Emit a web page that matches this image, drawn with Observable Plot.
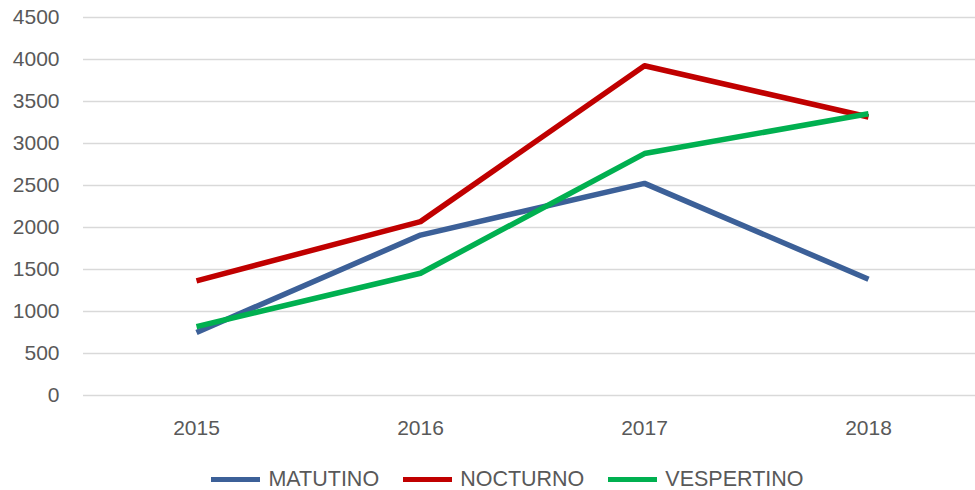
<!DOCTYPE html>
<html><head>
<meta charset="utf-8">
<script src="https://cdn.jsdelivr.net/npm/d3@7"></script>
<script src="https://cdn.jsdelivr.net/npm/@observablehq/plot@0.6"></script>
<style>
body{margin:0;background:#fff;font-family:"Liberation Sans",Arial,sans-serif;}
#legend{display:flex;justify-content:center;align-items:center;gap:24px;height:35px;margin-top:7px;margin-left:40px;color:#595959;font-size:21.5px;}
#legend .item{display:flex;align-items:center;gap:8px;}
#legend .sw{width:49px;height:5px;display:inline-block;}
</style>
</head><body>
<div id="chart"></div>
<div id="legend"></div>
<script>
const years = ["2015", "2016", "2017", "2018"];
const seriesNames = ["MATUTINO", "NOCTURNO", "VESPERTINO"];
const matutino = [750, 1910, 2525, 1385];
const nocturno = [1365, 2070, 3925, 3315];
const vespertino = [820, 1455, 2880, 3355];
const yTicks = [0, 500, 1000, 1500, 2000, 2500, 3000, 3500, 4000, 4500];
const colors = ["#3C6098", "#C00000", "#00B050"];

const seriesValues = [matutino, nocturno, vespertino];
const data = [];
seriesNames.forEach((s, i) => years.forEach((y, j) => data.push({serie: s, year: y, value: seriesValues[i][j]})));

const chart = Plot.plot({
  width: 975,
  height: 455,
  marginLeft: 83,
  marginRight: 0,
  marginTop: 17,
  marginBottom: 60,
  style: {fontFamily: '"Liberation Sans", Arial, sans-serif', fontSize: "21px", color: "#595959", background: "#fff"},
  x: {type: "point", domain: years, range: [195, 868], padding: 0},
  y: {domain: [0, 4500], ticks: yTicks},
  color: {domain: seriesNames, range: colors},
  marks: [
    Plot.ruleY(yTicks, {stroke: "#d9d9d9", strokeWidth: 1.4}),
    Plot.axisY({ticks: yTicks, tickFormat: d => String(d), tickSize: 0, tickPadding: 24, label: null, fill: "#595959"}),
    Plot.axisX({tickSize: 0, tickPadding: 25, label: null, fill: "#595959"}),
    Plot.line(data, {x: "year", y: "value", z: "serie", stroke: "serie", strokeWidth: 5.5, strokeLinecap: "butt", strokeLinejoin: "round"})
  ]
});
document.getElementById("chart").append(chart);

const legend = document.getElementById("legend");
seriesNames.forEach((s, i) => {
  const it = document.createElement("div");
  it.className = "item";
  it.innerHTML = `<span class="sw" style="background:${colors[i]}"></span><span>${s}</span>`;
  legend.append(it);
});
</script>
</body></html>
